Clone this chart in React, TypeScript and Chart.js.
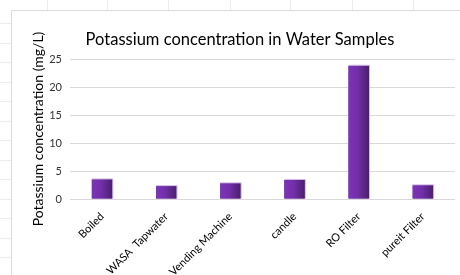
import React, { useEffect, useRef } from "react";
import { Chart, registerables } from "chart.js";

Chart.register(...registerables);

const categories = ["Boiled", "WASA  Tapwater", "Vending Machine", "candle", "RO Filter", "pureit Filter"];
const potassium = [3.5, 2.3, 2.8, 3.4, 23.8, 2.45];
const yTicks = [0, 5, 10, 15, 20, 25];
const chartTitle = "Potassium concentration in Water Samples";
const yTitle = "Potassium concentration (mg/L)";

const FONT = "Lato, 'Open Sans', sans-serif";

const decorPlugin = {
  id: "decor",
  beforeDraw(chart: any) {
    const ctx = chart.ctx;
    ctx.save();
    ctx.fillStyle = "#ffffff";
    ctx.fillRect(0, 0, chart.width, chart.height);
    // faint spreadsheet cells outside the chart area
    ctx.strokeStyle = "#ececec";
    ctx.lineWidth = 1;
    [47, 107, 168, 230, 290, 352, 413].forEach((x) => {
      ctx.beginPath();
      ctx.moveTo(x + 0.5, 0);
      ctx.lineTo(x + 0.5, 10);
      ctx.stroke();
    });
    for (let y = 23; y < chart.height; y += 19.5) {
      ctx.beginPath();
      ctx.moveTo(0, Math.round(y) + 0.5);
      ctx.lineTo(11, Math.round(y) + 0.5);
      ctx.stroke();
    }
    // chart frame
    ctx.strokeStyle = "#d9d9d9";
    ctx.beginPath();
    ctx.moveTo(11.5, chart.height);
    ctx.lineTo(11.5, 10.5);
    ctx.lineTo(chart.width, 10.5);
    ctx.stroke();
    // title
    ctx.fillStyle = "#000000";
    ctx.font = `16.5px ${FONT}`;
    ctx.textAlign = "center";
    ctx.textBaseline = "middle";
    ctx.fillText(chartTitle, 240, 40);
    ctx.restore();
  },
  afterDatasetsDraw(chart: any) {
    const ctx = chart.ctx;
    const meta = chart.getDatasetMeta(0);
    ctx.save();
    meta.data.forEach((bar: any) => {
      const { x, y, base, width } = bar.getProps(["x", "y", "base", "width"], true);
      const l = x - width / 2;
      const g = ctx.createLinearGradient(l, 0, l + width, 0);
      g.addColorStop(0, "#7d33b9");
      g.addColorStop(0.45, "#722fa8");
      g.addColorStop(1, "#4a1f6e");
      ctx.fillStyle = g;
      ctx.fillRect(l, y, width, base - y);
      ctx.strokeStyle = "rgba(200,170,220,0.8)";
      ctx.lineWidth = 1;
      ctx.beginPath();
      ctx.moveTo(l + width + 0.5, base);
      ctx.lineTo(l + width + 0.5, y - 0.5);
      ctx.lineTo(l, y - 0.5);
      ctx.stroke();
    });
    ctx.restore();
  },
};

export default function App() {
  const ref = useRef<HTMLCanvasElement>(null);
  useEffect(() => {
    if (!ref.current) return;
    const chart = new Chart(ref.current, {
      type: "bar",
      data: {
        labels: categories,
        datasets: [
          {
            data: potassium,
            backgroundColor: "#6a2a9e",
            barPercentage: 0.32,
            categoryPercentage: 1,
          },
        ],
      },
      options: {
        animation: false,
        responsive: false,
        devicePixelRatio: 1,
        layout: { padding: { left: 26, right: 5, top: 59, bottom: 0 } },
        plugins: { legend: { display: false }, tooltip: { enabled: false }, title: { display: false } },
        scales: {
          x: {
            grid: { display: false },
            border: { display: false },
            ticks: {
              maxRotation: 45,
              minRotation: 45,
              autoSkip: false,
              color: "#000000",
              font: { family: FONT, size: 11 },
              padding: 3,
            },
            afterFit: (s: any) => {
              s.height = 76;
            },
          },
          y: {
            min: 0,
            max: 25,
            afterBuildTicks: (s: any) => {
              s.ticks = yTicks.map((v) => ({ value: v }));
            },
            grid: { color: "#d9d9d9", drawTicks: false, lineWidth: 1 },
            border: { display: false },
            ticks: {
              color: "#333333",
              font: { family: FONT, size: 11 },
              padding: 8,
            },
            title: {
              display: true,
              text: yTitle,
              color: "#000000",
              font: { family: FONT, size: 14 },
              padding: { top: 4, bottom: 0 },
            },
            afterFit: (s: any) => {
              s.width = 44;
            },
          },
        },
      },
      plugins: [decorPlugin],
    });
    return () => chart.destroy();
  }, []);
  return (
    <div style={{ position: "fixed", left: 0, top: 0, width: 460, height: 275 }}>
      <canvas ref={ref} width={460} height={275} style={{ width: 460, height: 275 }} />
    </div>
  );
}
